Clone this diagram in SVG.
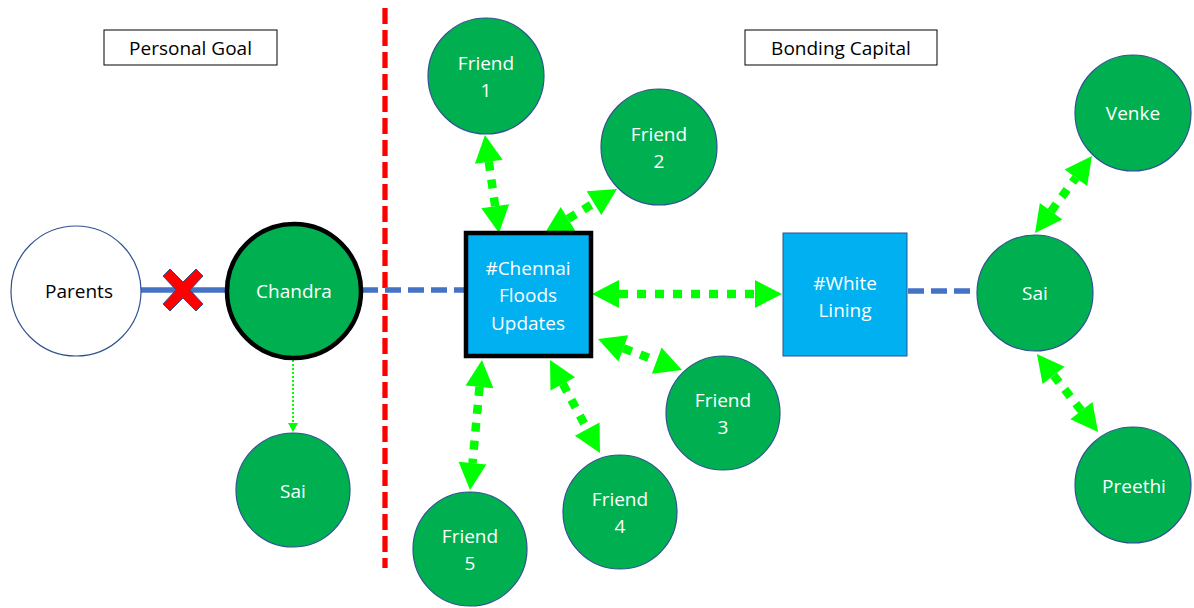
<svg xmlns="http://www.w3.org/2000/svg" width="1194" height="608" viewBox="0 0 1194 608">
  <style>
    text { font-family: "Open Sans", "Noto Sans", sans-serif; font-size: 19px; text-anchor: middle; dominant-baseline: central; }
    .lbl text, .white { fill: #ffffff; }
    .dark { fill: #000000; }
    .node { fill: #00B050; stroke: #2F528F; stroke-width: 1.2; }
    .tag { fill: #00B0F0; }
    .title { fill: #ffffff; stroke: #000000; stroke-width: 1; }
    .link { fill: none; stroke: #00FF00; stroke-width: 8.5; stroke-dasharray: 9 9; marker-start: url(#head); marker-end: url(#head); }
    .tie { fill: none; stroke: #4472C4; stroke-width: 5.5; }
  </style>
  <defs>
    <marker id="head" markerUnits="userSpaceOnUse" markerWidth="30" markerHeight="30" refX="0" refY="14" orient="auto-start-reverse" overflow="visible">
      <path d="M0,0 L27,14 L0,28 z" fill="#00FF00"/>
    </marker>
    <marker id="tip" markerUnits="userSpaceOnUse" markerWidth="12" markerHeight="12" refX="0" refY="5" orient="auto" overflow="visible">
      <path d="M0,0 L9,5 L0,10 z" fill="#00FF00"/>
    </marker>
  </defs>

  <!-- section titles -->
  <g id="personal-goal">
    <rect class="title" x="104" y="30" width="173" height="35"/>
    <text class="dark" x="190.5" y="47.5">Personal Goal</text>
  </g>
  <g id="bonding-capital">
    <rect class="title" x="745" y="30" width="192" height="35"/>
    <text class="dark" x="841" y="47.5">Bonding Capital</text>
  </g>

  <!-- connectors -->
  <g id="connectors">
    <line x1="385" y1="8" x2="385" y2="568" stroke="#FF0000" stroke-width="5.3" stroke-dasharray="16 6"/>
    <line class="tie" x1="141" y1="290" x2="228" y2="290"/>
    <line class="tie" x1="362" y1="290" x2="465" y2="290" stroke-dasharray="16 7"/>
    <line class="tie" x1="908" y1="291" x2="977" y2="291" stroke-dasharray="16 7"/>
    <line x1="293" y1="360" x2="293" y2="423" stroke="#00FF00" stroke-width="2" stroke-dasharray="2 2" marker-end="url(#tip)"/>
    <path class="link" d="M488.8,161.7 L495.2,206.3"/>
    <path class="link" d="M568,218.9 L594,203.1"/>
    <path class="link" d="M619,294 L755,294"/>
    <path class="link" d="M623.3,348.3 L656.7,360.7"/>
    <path class="link" d="M479.5,386.9 L472.5,463.1"/>
    <path class="link" d="M562.8,383.8 L587.2,429.2"/>
    <path class="link" d="M1051.1,211.3 L1075.9,177.7"/>
    <path class="link" d="M1053.6,375.3 L1081.4,410.7"/>
    <!-- broken link marker -->
    <polygon transform="translate(183,290)" fill="#FF0000" stroke="#2F528F" stroke-width="1" points="-20,-14 -13,-21 0,-8 13,-21 20,-14 7,0 20,14 13,21 0,8 -13,21 -20,14 -7,0"/>
  </g>

  <!-- people -->
  <g id="parents">
    <circle cx="76" cy="291" r="65" fill="#ffffff" stroke="#2F528F" stroke-width="1.2"/>
    <text class="dark" x="79" y="291">Parents</text>
  </g>
  <g id="chandra" class="lbl">
    <circle cx="294" cy="291" r="67" fill="#00B050" stroke="#000000" stroke-width="4.5"/>
    <text x="294" y="291">Chandra</text>
  </g>
  <g id="sai-left" class="lbl">
    <circle class="node" cx="293" cy="490" r="57"/>
    <text x="293" y="491">Sai</text>
  </g>
  <g id="friend-1" class="lbl">
    <circle class="node" cx="486" cy="76" r="58"/>
    <text x="486" y="63">Friend</text>
    <text x="486" y="90">1</text>
  </g>
  <g id="friend-2" class="lbl">
    <circle class="node" cx="659" cy="147" r="58"/>
    <text x="659" y="134">Friend</text>
    <text x="659" y="161">2</text>
  </g>
  <g id="friend-3" class="lbl">
    <circle class="node" cx="723" cy="413" r="57"/>
    <text x="723" y="400">Friend</text>
    <text x="723" y="427">3</text>
  </g>
  <g id="friend-4" class="lbl">
    <circle class="node" cx="620" cy="512" r="57"/>
    <text x="620" y="499">Friend</text>
    <text x="620" y="526">4</text>
  </g>
  <g id="friend-5" class="lbl">
    <circle class="node" cx="470" cy="549" r="57"/>
    <text x="470" y="536">Friend</text>
    <text x="470" y="563">5</text>
  </g>
  <g id="venke" class="lbl">
    <circle class="node" cx="1133" cy="113" r="58"/>
    <text x="1133" y="113">Venke</text>
  </g>
  <g id="sai-right" class="lbl">
    <circle class="node" cx="1035" cy="293" r="58"/>
    <text x="1035" y="293">Sai</text>
  </g>
  <g id="preethi" class="lbl">
    <circle class="node" cx="1133" cy="485" r="58"/>
    <text x="1134" y="486">Preethi</text>
  </g>

  <!-- hashtags -->
  <g id="chennai-floods" class="lbl">
    <rect class="tag" x="466" y="233" width="125" height="123" stroke="#000000" stroke-width="4.5"/>
    <text x="528" y="268">#Chennai</text>
    <text x="528" y="295">Floods</text>
    <text x="528" y="323">Updates</text>
  </g>
  <g id="white-lining" class="lbl">
    <rect class="tag" x="783" y="233" width="124" height="123" stroke="#2F528F" stroke-width="1"/>
    <text x="845" y="283">#White</text>
    <text x="845" y="310">Lining</text>
  </g>
</svg>
